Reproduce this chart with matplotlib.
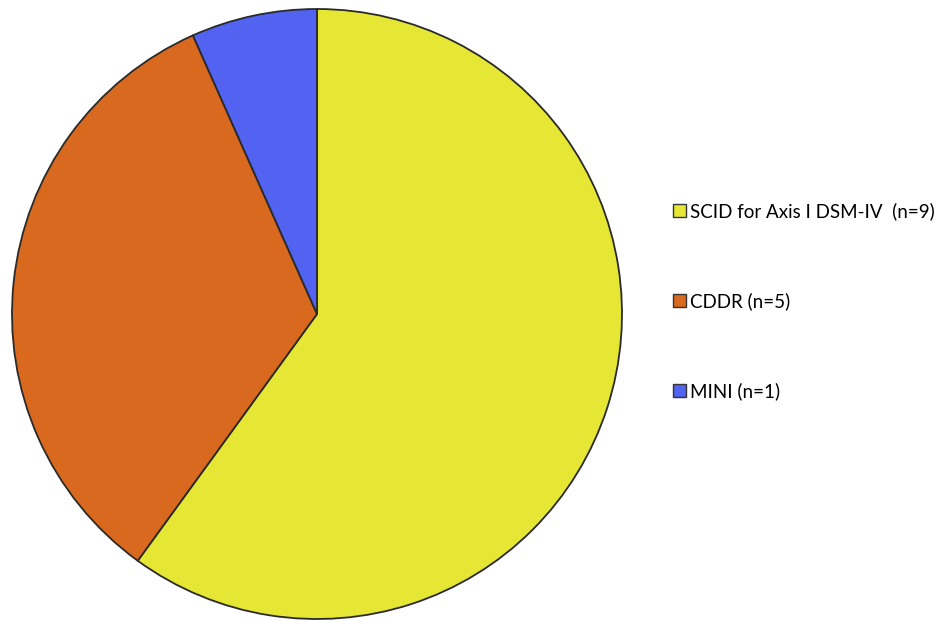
import matplotlib.pyplot as plt
from matplotlib.patches import Patch

labels = ['SCID for Axis I DSM-IV  (n=9)', 'CDDR (n=5)', 'MINI (n=1)']
counts = [9, 5, 1]
colors = ['#E6E634', '#D9691F', '#5163F0']

fig = plt.figure(figsize=(9.37, 6.21), dpi=100)
W, H = 937, 621
cx, cy, r = 317, 314, 305
ax = fig.add_axes([(cx - r) / W, (H - cy - r) / H, 2 * r / W, 2 * r / H])

ax.pie(counts, colors=colors, startangle=90, counterclock=False,
       radius=1.0, wedgeprops=dict(edgecolor='#2a2a2a', linewidth=1.3))
ax.set_xlim(-1.0, 1.0)
ax.set_ylim(-1.0, 1.0)
ax.set_aspect('equal')
ax.axis('off')

handles = [Patch(facecolor=c, edgecolor='#333333', linewidth=1.0) for c in colors]
leg = fig.legend(handles, labels, loc='upper left', bbox_to_anchor=(656 / W, 1 - 185 / H),
                 frameon=False, handlelength=0.72, handleheight=0.72,
                 handletextpad=0.22, labelspacing=3.85,
                 prop={'family': 'Lato', 'size': 13.5})

fig.savefig('out.png', dpi=100, facecolor='white')
